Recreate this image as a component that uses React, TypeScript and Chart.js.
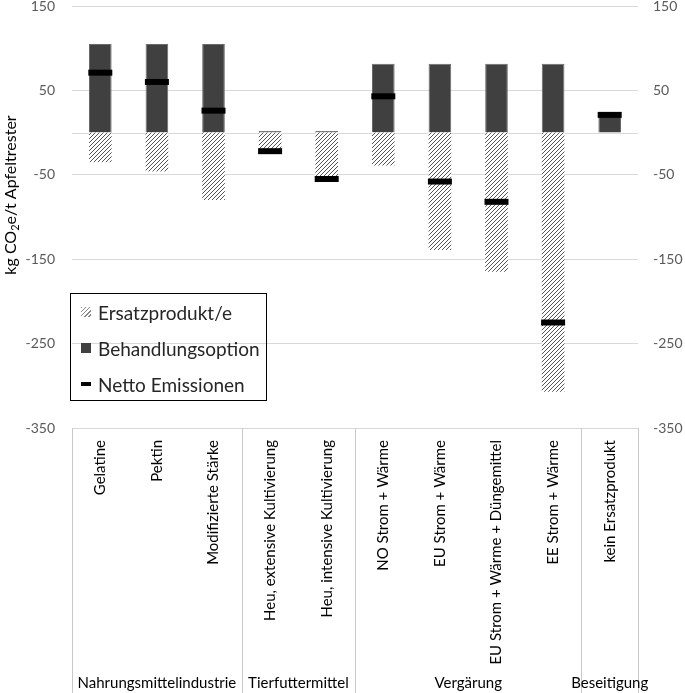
import React, { useEffect, useRef } from "react";
import { Chart, registerables } from "chart.js";

Chart.register(...registerables);

const categories = [
  "Gelatine",
  "Pektin",
  "Modifizierte Stärke",
  "Heu, extensive Kultivierung",
  "Heu, intensive Kultivierung",
  "NO Strom + Wärme",
  "EU Strom + Wärme",
  "EU Strom + Wärme + Düngemittel",
  "EE Strom + Wärme",
  "kein Ersatzprodukt",
];
const ersatzprodukt = [-35, -46, -80, -25, -57, -39, -139, -165, -307, 0];
const behandlungsoption = [105, 105, 105, 2, 2, 81.5, 81.5, 81.5, 81.5, 22];
const nettoEmissionen = [71, 60, 26, -22, -55, 43, -58, -82, -225, 21];
const groupLabels = ["Nahrungsmittelindustrie", "Tierfuttermittel", "Vergärung", "Beseitigung"];
const groupSizes = [3, 2, 4, 1];
const yMin = -350;
const yMax = 150;
const yStep = 100;

const FONT = "Lato, 'Open Sans', sans-serif";

function makeHatch(): CanvasPattern | string {
  const c = document.createElement("canvas");
  c.width = 4;
  c.height = 4;
  const ctx = c.getContext("2d");
  if (!ctx) return "#999";
  ctx.fillStyle = "#ffffff";
  ctx.fillRect(0, 0, 4, 4);
  ctx.strokeStyle = "#555555";
  ctx.lineWidth = 1;
  ctx.beginPath();
  ctx.moveTo(-1, 5);
  ctx.lineTo(5, -1);
  ctx.moveTo(-1, 1);
  ctx.lineTo(1, -1);
  ctx.moveTo(3, 5);
  ctx.lineTo(5, 3);
  ctx.stroke();
  const p = ctx.createPattern(c, "repeat");
  return p || "#999";
}

const decorPlugin = {
  id: "decor",
  beforeDatasetsDraw(chart: any) {
    const { ctx, chartArea, scales } = chart;
    const y0 = scales.y.getPixelForValue(0);
    ctx.save();
    ctx.strokeStyle = "#d9d9d9";
    ctx.lineWidth = 1;
    ctx.beginPath();
    ctx.moveTo(chartArea.left, Math.round(y0) + 0.5);
    ctx.lineTo(chartArea.right, Math.round(y0) + 0.5);
    ctx.stroke();
    ctx.restore();
  },
  afterDraw(chart: any) {
    const { ctx, chartArea, height } = chart;
    const n = categories.length;
    const w = (chartArea.right - chartArea.left) / n;
    ctx.save();
    // separators
    ctx.strokeStyle = "#c8c8c8";
    ctx.lineWidth = 1;
    const bounds = [0];
    let acc = 0;
    groupSizes.forEach((s) => {
      acc += s;
      bounds.push(acc);
    });
    ctx.beginPath();
    bounds.forEach((b) => {
      const px = Math.round(chartArea.left + b * w) + 0.5;
      ctx.moveTo(px, chartArea.bottom);
      ctx.lineTo(px, height);
    });
    ctx.stroke();
    // group labels
    ctx.fillStyle = "#000000";
    ctx.font = `15px ${FONT}`;
    ctx.textAlign = "center";
    ctx.textBaseline = "middle";
    for (let i = 0; i < groupLabels.length; i++) {
      const cx = chartArea.left + ((bounds[i] + bounds[i + 1]) / 2) * w;
      ctx.fillText(groupLabels[i], cx, 683);
    }
    // y-axis title with subscript
    ctx.translate(11, 195);
    ctx.rotate(-Math.PI / 2);
    const big = `16px ${FONT}`;
    const small = `11px ${FONT}`;
    const parts: [string, string, number][] = [
      ["kg CO", big, 0],
      ["2", small, 4],
      ["e/t Apfeltrester", big, 0],
    ];
    let total = 0;
    parts.forEach(([t, f]) => {
      ctx.font = f;
      total += ctx.measureText(t).width;
    });
    let cur = -total / 2;
    ctx.textAlign = "left";
    ctx.textBaseline = "middle";
    parts.forEach(([t, f, dy]) => {
      ctx.font = f;
      ctx.fillText(t, cur, dy);
      cur += ctx.measureText(t).width;
    });
    ctx.restore();
  },
};

export default function App() {
  const ref = useRef<HTMLCanvasElement | null>(null);

  useEffect(() => {
    if (!ref.current) return;
    const hatch = makeHatch();
    const chart = new Chart(ref.current, {
      type: "bar",
      data: {
        labels: categories,
        datasets: [
          {
            type: "line",
            label: "Netto Emissionen",
            data: nettoEmissionen,
            showLine: false,
            pointStyle: "line",
            pointRadius: 12,
            pointHoverRadius: 12,
            pointBorderWidth: 6,
            pointBorderColor: "#000000",
            pointBackgroundColor: "#000000",
            borderColor: "#000000",
            order: 0,
            stack: "net",
            yAxisID: "y",
          } as any,
          {
            type: "bar",
            label: "Ersatzprodukt/e",
            data: ersatzprodukt,
            backgroundColor: hatch as any,
            borderWidth: 0,
            order: 1,
            stack: "a",
            barPercentage: 0.4,
            categoryPercentage: 1,
          },
          {
            type: "bar",
            label: "Behandlungsoption",
            data: behandlungsoption,
            backgroundColor: "#404040",
            borderColor: "#6a6a6a",
            borderWidth: 1,
            order: 1,
            stack: "a",
            barPercentage: 0.4,
            categoryPercentage: 1,
          },
        ],
      },
      options: {
        animation: false,
        responsive: true,
        maintainAspectRatio: false,
        layout: { autoPadding: false, padding: { top: 6, left: 0, right: 0, bottom: 0 } },
        plugins: {
          legend: { display: false },
          tooltip: { enabled: false },
        },
        scales: {
          x: {
            stacked: true,
            grid: { display: false },
            border: { display: false },
            ticks: {
              minRotation: 90,
              maxRotation: 90,
              autoSkip: false,
              padding: 4,
              color: "#000000",
              font: { family: FONT, size: 15 },
            },
            afterFit(scale: any) {
              scale.height = 265;
              scale.paddingLeft = 0;
              scale.paddingRight = 0;
            },
          },
          y: {
            stacked: true,
            position: "left",
            min: yMin,
            max: yMax,
            ticks: {
              stepSize: yStep,
              padding: 17,
              color: "#595959",
              font: { family: FONT, size: 14 },
            },
            grid: { color: "#d9d9d9", drawTicks: false },
            border: { display: false },
            afterFit(scale: any) {
              scale.width = 72;
              scale.paddingTop = 0;
              scale.paddingBottom = 0;
            },
          },
          y2: {
            position: "right",
            min: yMin,
            max: yMax,
            ticks: {
              stepSize: yStep,
              padding: 15,
              color: "#595959",
              font: { family: FONT, size: 14 },
            },
            grid: { display: false, drawTicks: false },
            border: { display: false },
            afterFit(scale: any) {
              scale.width = 47;
              scale.paddingTop = 0;
              scale.paddingBottom = 0;
            },
          },
        },
      },
      plugins: [decorPlugin],
    });
    return () => chart.destroy();
  }, []);

  const itemStyle: React.CSSProperties = {
    display: "flex",
    alignItems: "center",
    height: 36,
  };
  const textStyle: React.CSSProperties = {
    fontFamily: FONT,
    fontSize: 19,
    color: "#262626",
    marginLeft: 7,
    whiteSpace: "nowrap",
  };

  return (
    <div style={{ position: "fixed", left: 0, top: 0, width: 685, height: 693 }}>
      <canvas ref={ref} width={685} height={693} />
      <div
        style={{
          position: "absolute",
          left: 70,
          top: 293,
          width: 197,
          height: 108,
          border: "1.5px solid #000",
          boxSizing: "border-box",
          paddingLeft: 10,
          paddingTop: 0,
        }}
      >
        <div style={itemStyle}>
          <span
            style={{
              display: "inline-block",
              width: 10,
              height: 10,
              background:
                "repeating-linear-gradient(135deg, #888 0px, #888 1px, transparent 1px, transparent 3px)",
            }}
          />
          <span style={textStyle}>Ersatzprodukt/e</span>
        </div>
        <div style={itemStyle}>
          <span style={{ display: "inline-block", width: 10, height: 10, background: "#404040" }} />
          <span style={textStyle}>Behandlungsoption</span>
        </div>
        <div style={itemStyle}>
          <span style={{ display: "inline-block", width: 10, height: 4, background: "#000" }} />
          <span style={textStyle}>Netto Emissionen</span>
        </div>
      </div>
    </div>
  );
}
